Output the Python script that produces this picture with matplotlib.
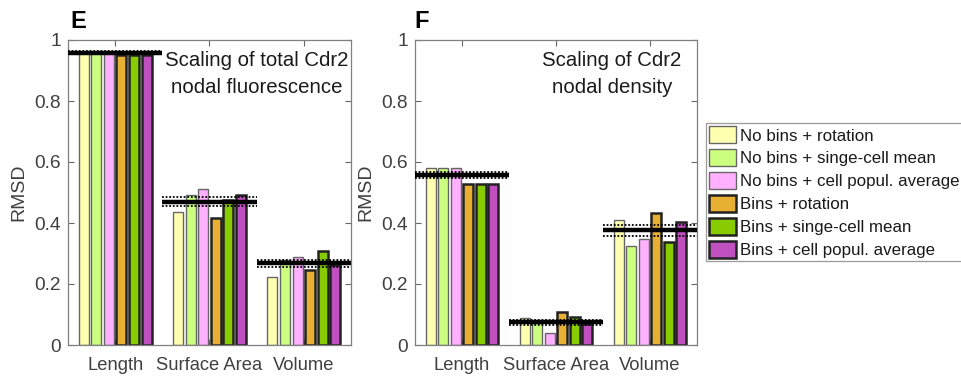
import matplotlib
matplotlib.use("Agg")
import matplotlib.pyplot as plt
import numpy as np

plt.rcParams['font.family'] = ['Liberation Sans', 'DejaVu Sans']

categories = ['Length', 'Surface Area', 'Volume']
series_names = ['No bins + rotation', 'No bins + singe-cell mean', 'No bins + cell popul. average',
                'Bins + rotation', 'Bins + singe-cell mean', 'Bins + cell popul. average']

E_no_bins_rotation = [0.962, 0.437, 0.224]
E_no_bins_sc_mean = [0.962, 0.492, 0.279]
E_no_bins_pop_avg = [0.962, 0.510, 0.290]
E_bins_rotation = [0.951, 0.415, 0.246]
E_bins_sc_mean = [0.951, 0.475, 0.308]
E_bins_pop_avg = [0.951, 0.492, 0.262]
E_mean = [0.959, 0.470, 0.268]
E_lo = [0.955, 0.456, 0.255]
E_hi = [0.965, 0.484, 0.279]

F_no_bins_rotation = [0.581, 0.087, 0.411]
F_no_bins_sc_mean = [0.581, 0.072, 0.324]
F_no_bins_pop_avg = [0.581, 0.040, 0.347]
F_bins_rotation = [0.529, 0.107, 0.434]
F_bins_sc_mean = [0.529, 0.093, 0.339]
F_bins_pop_avg = [0.529, 0.069, 0.403]
F_mean = [0.556, 0.074, 0.376]
F_lo = [0.546, 0.066, 0.357]
F_hi = [0.566, 0.083, 0.395]

colors = ['#FFFFB0', '#CCFF80', '#FFB0FF', '#E8B032', '#88CC00', '#C050C0']
edgecolors = ['#666666', '#666666', '#666666', '#222222', '#222222', '#222222']
edgewidths = [1.0, 1.0, 1.0, 1.8, 1.8, 1.8]

fig = plt.figure(figsize=(9.62, 3.80), dpi=100)
W, H = 962.0, 380.0
axE = fig.add_axes([68 / W, 1 - 345 / H, 283 / W, 305 / H])
axF = fig.add_axes([415 / W, 1 - 345 / H, 282 / W, 305 / H])

def draw(ax, vals, mean, lo, hi, text, tx):
    x = np.arange(1, len(categories) + 1)
    slot = 0.8 / 6
    handles = []
    for i, v in enumerate(vals):
        h = ax.bar(x + (i - 2.5) * slot, v, width=slot * 0.8, color=colors[i],
                   edgecolor=edgecolors[i], linewidth=edgewidths[i], zorder=2,
                   label=series_names[i])
        handles.append(h)
    for j in range(len(categories)):
        ax.plot([x[j] - 0.5, x[j] + 0.5], [mean[j], mean[j]], color='black', lw=3.2, zorder=4,
                solid_capstyle='butt')
        ax.plot([x[j] - 0.5, x[j] + 0.5], [lo[j], lo[j]], color='black', lw=1.3, ls=(0, (1, 1)), zorder=4)
        ax.plot([x[j] - 0.5, x[j] + 0.5], [hi[j], hi[j]], color='black', lw=1.3, ls=(0, (1, 1)), zorder=4)
    ax.set_xlim(0.5, 3.5)
    ax.set_ylim(0, 1)
    ax.set_xticks(x)
    ax.set_xticklabels(categories, fontsize=13.2, color='#404040')
    ax.set_yticks([0, 0.2, 0.4, 0.6, 0.8, 1.0])
    ax.set_yticklabels(['0', '0.2', '0.4', '0.6', '0.8', '1'], fontsize=13.8, color='#404040')
    ax.tick_params(direction='in', length=4, width=0.8, color='#666666', top=True, right=True, pad=5)
    ax.tick_params(axis='x', pad=9)
    for s in ax.spines.values():
        s.set_color('#808080')
        s.set_linewidth(0.9)
    ax.set_ylabel('RMSD', fontsize=14, color='#404040', labelpad=5)
    ax.text(tx, 0.965, text, transform=ax.transAxes, ha='center', va='top', fontsize=14.7,
            color='#1a1a1a', linespacing=1.55, zorder=5)
    return handles

E_vals = [E_no_bins_rotation, E_no_bins_sc_mean, E_no_bins_pop_avg, E_bins_rotation, E_bins_sc_mean, E_bins_pop_avg]
F_vals = [F_no_bins_rotation, F_no_bins_sc_mean, F_no_bins_pop_avg, F_bins_rotation, F_bins_sc_mean, F_bins_pop_avg]

handles = draw(axE, E_vals, E_mean, E_lo, E_hi, 'Scaling of total Cdr2\nnodal fluorescence', 0.668)
draw(axF, F_vals, F_mean, F_lo, F_hi, 'Scaling of Cdr2\nnodal density', 0.699)

fig.text(70 / W, 1 - 21 / H, 'E', fontsize=17, fontweight='bold', ha='left', va='center')
fig.text(414 / W, 1 - 21 / H, 'F', fontsize=17, fontweight='bold', ha='left', va='center')

leg = fig.legend(handles, series_names, loc='upper left', bbox_to_anchor=(706 / W, 1 - 123 / H),
                 fontsize=12.2, frameon=True, fancybox=False, handlelength=1.6, handleheight=1.15,
                 handletextpad=0.2, labelspacing=0.34, borderpad=0.2, borderaxespad=0)
leg.get_frame().set_edgecolor('#808080')
leg.get_frame().set_linewidth(0.9)
for t in leg.get_texts():
    t.set_color('#1a1a1a')

fig.savefig('out.png', dpi=100)
